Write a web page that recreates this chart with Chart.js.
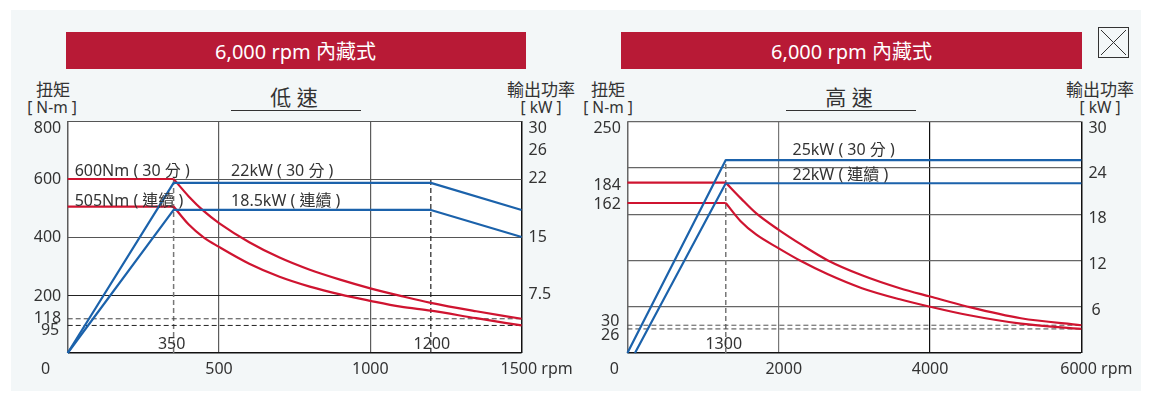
<!DOCTYPE html>
<html>
<head>
<meta charset="utf-8">
<script src="https://cdn.jsdelivr.net/npm/chart.js@4/dist/chart.umd.min.js"></script>
<style>
  html, body { margin: 0; padding: 0; background: #fff; }
  body { width: 1150px; height: 400px; position: relative; overflow: hidden; font-family: "Noto Sans", "Noto Sans CJK TC", sans-serif; color: #333; }
  #panel { position: absolute; left: 11px; top: 10px; width: 1130px; height: 381px; background: #f3f7f8; }
  canvas { position: absolute; top: 0; }
  .banner { position: absolute; top: 32px; height: 37px; line-height: 39px; background: #b81a36; color: #fff; text-align: center; font-size: 20px; }
  .txt { position: absolute; transform: translate(-50%, -50%); white-space: nowrap; }
  .unit { font-size: 17px; }
  .bracket { font-size: 15.5px; }
  .speed { font-size: 21px; color: #333; }
  .rule { position: absolute; top: 110px; height: 1px; background: #333; }
  #cross { position: absolute; left: 1098px; top: 27px; }
</style>
</head>
<body>
<div id="panel"></div>
<div class="banner" style="left:65.5px;width:460px">6,000 rpm 內藏式</div>
<div class="banner" style="left:621px;width:461px">6,000 rpm 內藏式</div>
<svg id="cross" width="31" height="31"><rect x="0.5" y="0.5" width="30" height="30" fill="none" stroke="#333"/><path d="M3 3L28 28M28 3L3 28" stroke="#333" fill="none"/></svg>

<div class="txt unit" style="left:53px;top:88px">扭矩</div>
<div class="txt bracket" style="left:52px;top:107px">[ N-m ]</div>
<div class="txt unit" style="left:541px;top:88px">輸出功率</div>
<div class="txt bracket" style="left:541px;top:107px">[ kW ]</div>
<div class="txt speed" style="left:294px;top:96px">低 速</div>
<div class="rule" style="left:231px;width:130px"></div>

<div class="txt unit" style="left:608px;top:88px">扭矩</div>
<div class="txt bracket" style="left:608px;top:107px">[ N-m ]</div>
<div class="txt unit" style="left:1100px;top:88px">輸出功率</div>
<div class="txt bracket" style="left:1100px;top:107px">[ kW ]</div>
<div class="txt speed" style="left:849px;top:96px">高 速</div>
<div class="rule" style="left:786px;width:130px"></div>

<canvas id="lowChart" width="575" height="400" style="left:0"></canvas>
<canvas id="highChart" width="575" height="400" style="left:575px"></canvas>

<script>
// low speed values
const lowRpmTicks = [0, 500, 1000, 1500];
const lowRpmLabels = ["0", "500", "1000", "1500 rpm"];
const lowTorqueGrid = [0, 200, 400, 600, 800];
const lowTorqueTicks = [800, 600, 400, 200, 118, 95];
const lowPowerTicks = [30, 26, 22, 15, 7.5];

const lowFlatRpm = [0, 350];
const lowFlat30 = [600, 600];
const lowFlatCont = [505, 505];
const lowCurveRpm = [350, 400, 450, 500, 600, 700, 800, 900, 1000, 1100, 1200, 1350, 1500];
const lowTorque30 = [600, 540, 489, 448, 382, 329, 287, 253, 223, 197, 173, 144, 118];
const lowTorqueCont = [505, 443, 398, 366, 308, 263, 229, 202, 180, 160, 146, 120, 95];
const lowPowerRpm = [0, 350, 1200, 1500];
const lowPower30 = [0, 22, 22, 18.5];
const lowPowerCont = [0, 18.5, 18.5, 15];

// high speed values
const highRpmTicks = [0, 2000, 4000, 6000];
const highRpmLabels = ["0", "2000", "4000", "6000 rpm"];
const highPowerGrid = [0, 6, 12, 18, 24, 30];
const highTorqueTicks = [250, 184, 162, 30, 26];
const highPowerTicks = [30, 24, 18, 12, 6];

const highFlatRpm = [0, 1300];
const highFlat30 = [184, 184];
const highFlatCont = [162, 162];
const highCurveRpm = [1300, 1500, 1700, 2000, 2300, 2650, 3100, 3600, 4000, 4500, 5200, 6000];
const highTorque30 = [184, 167, 151, 133, 117, 100, 84, 70, 61, 50, 37.5, 30];
const highTorqueCont = [162, 142, 128, 113, 99, 85, 70, 58, 50, 41, 31.7, 26];
const highPower30Rpm = [0, 1300, 6000];
const highPower30 = [0, 25, 25];
const highPowerContRpm = [100, 1300, 6000];
const highPowerCont = [0, 22, 22];

const RED = "#cf1430";
const BLUE = "#1b62ab";
const TEXT = "#333";
const FONT = '"Noto Sans", "Noto Sans CJK TC", sans-serif';

function pts(xs, ys) {
  return xs.map((x, i) => ({ x: x, y: ys[i] }));
}

function line(xs, ys, color, axis) {
  return { data: pts(xs, ys), borderColor: color, borderWidth: 2.2, pointRadius: 0, tension: 0, yAxisID: axis, clip: false, borderJoinStyle: "round" };
}

function curve(xs, ys) {
  return Object.assign(line(xs, ys, RED, "torque"), { cubicInterpolationMode: "monotone" });
}

function dash(xs, ys, color, axis, width) {
  return { data: pts(xs, ys), borderColor: color, borderWidth: width || 1, borderDash: [5, 3], pointRadius: 0, yAxisID: axis, clip: false };
}

// white plot background, tick labels and notes. Labels sit a few px off their
// grid lines in the original, so they are drawn here and not by the axis
const labelsPlugin = {
  id: "labels",
  beforeDraw(chart) {
    const a = chart.chartArea;
    chart.ctx.fillStyle = "#fff";
    chart.ctx.fillRect(a.left, a.top, a.width, a.height);
  },
  afterDraw(chart) {
    const o = chart.options.plugins.labels;
    const c = chart.ctx;
    const sx = chart.scales.x, st = chart.scales.torque, sp = chart.scales.power;
    c.save();
    c.font = "16px " + FONT;
    c.fillStyle = TEXT;
    c.textBaseline = "middle";
    c.textAlign = "right";
    o.torque.forEach(t => c.fillText(String(t[0]), sx.left - 6.5 + (t[2] || 0), st.getPixelForValue(t[0]) + t[1] + 1.5));
    c.textAlign = "left";
    o.power.forEach(t => c.fillText(String(t[0]), sx.right + 7 + (t[2] || 0), sp.getPixelForValue(t[0]) + t[1] + 1.5));
    c.textAlign = "center";
    o.rpm.forEach(t => c.fillText(t[0], sx.getPixelForValue(t[1]) + t[2], st.bottom + 16));
    o.marks.forEach(t => c.fillText(String(t[0]), sx.getPixelForValue(t[0]) + t[1], st.bottom - 9));
    c.textAlign = "left";
    o.notes.forEach(t => c.fillText(t[0], sx.getPixelForValue(t[1]), st.getPixelForValue(t[2]) + 1.5));
    c.restore();
  }
};

function makeChart(id, cfg) {
  new Chart(document.getElementById(id), {
    type: "line",
    data: { datasets: cfg.datasets },
    plugins: [labelsPlugin],
    options: {
      responsive: false,
      animation: false,
      parsing: false,
      layout: { padding: cfg.padding },
      plugins: {
        legend: { display: false },
        tooltip: { enabled: false },
        labels: cfg.labels,
      },
      scales: {
        x: {
          type: "linear",
          min: 0,
          max: cfg.xMax,
          afterBuildTicks: s => { s.ticks = cfg.xTicks.map(v => ({ value: v })); },
          ticks: { display: false },
          border: { display: false },
          grid: { drawTicks: false, color: cfg.xGridColor, lineWidth: c => (c.tick.value === 0 || c.tick.value === cfg.xMax ? 1.5 : 1.2) },
        },
        torque: {
          type: "linear",
          position: "left",
          min: 0,
          max: cfg.torqueMax,
          afterBuildTicks: s => { s.ticks = (cfg.torqueGrid || []).map(v => ({ value: v })); },
          ticks: { display: false },
          border: { display: false },
          grid: { display: !!cfg.torqueGrid, drawTicks: false, color: cfg.yGridColor, lineWidth: c => (c.tick.value === 0 ? 1.5 : 1) },
        },
        power: {
          type: "linear",
          position: "right",
          min: 0,
          max: 30,
          afterBuildTicks: s => { s.ticks = (cfg.powerGrid || []).map(v => ({ value: v })); },
          ticks: { display: false },
          border: { display: false },
          grid: { display: !!cfg.powerGrid, drawTicks: false, color: cfg.yGridColor, lineWidth: c => (c.tick.value === 0 ? 1.5 : 1.2) },
        },
      },
    },
  });
}

makeChart("lowChart", {
  padding: { left: 67.7, right: 53.4, top: 121, bottom: 47 },
  xMax: 1500,
  xTicks: lowRpmTicks,
  torqueMax: 800,
  torqueGrid: lowTorqueGrid,
  xGridColor: c => (c.tick.value === 1500 ? "#111" : "#5c5c5c"),
  yGridColor: c => (c.tick.value === 0 ? "#111" : c.tick.value === 200 ? "#222" : "#555"),
  datasets: [
    line(lowPowerRpm, lowPower30, BLUE, "power"),
    line(lowPowerRpm, lowPowerCont, BLUE, "power"),
    line(lowFlatRpm, lowFlat30, RED, "torque"),
    line(lowFlatRpm, lowFlatCont, RED, "torque"),
    curve(lowCurveRpm, lowTorque30),
    curve(lowCurveRpm, lowTorqueCont),
    dash([0, 1500], [118, 118], "#444", "torque"),
    dash([0, 1500], [95, 95], "#222", "torque"),
    dash([350, 350], [0, 600], "#777", "torque", 1.5),
    dash([1200, 1200], [0, 600], "#222", "torque", 1.2),
  ],
  labels: {
    torque: lowTorqueTicks.map((v, i) => [v, [5.7, -1.3, -1, 0, -2, 3.8][i], i === 5 ? -2 : 0]),
    power: lowPowerTicks.map((v, i) => [v, [6, -3, -6, -1, -2][i]]),
    rpm: lowRpmLabels.map((v, i) => [v, lowRpmTicks[i], [-22, 0, 0, 15][i]]),
    marks: [[350, -2], [1200, 1]],
    notes: [
      ["600Nm ( 30 分 )", 23, 631],
      ["505Nm ( 連續 )", 23, 528],
      ["22kW ( 30 分 )", 540, 631],
      ["18.5kW ( 連續 )", 540, 528],
    ],
  },
});

makeChart("highChart", {
  padding: { left: 52.4, right: 68.6, top: 121.5, bottom: 47 },
  xMax: 6000,
  xTicks: highRpmTicks,
  torqueMax: 250,
  powerGrid: highPowerGrid,
  xGridColor: c => (c.tick.value === 2000 ? "#777" : c.tick.value === 0 ? "#666" : "#111"),
  yGridColor: c => (c.tick.value === 0 ? "#111" : "#666"),
  datasets: [
    line(highPower30Rpm, highPower30, BLUE, "power"),
    line(highPowerContRpm, highPowerCont, BLUE, "power"),
    line(highFlatRpm, highFlat30, RED, "torque"),
    line(highFlatRpm, highFlatCont, RED, "torque"),
    curve(highCurveRpm, highTorque30),
    curve(highCurveRpm, highTorqueCont),
    dash([0, 6000], [30, 30], "#555", "torque"),
    dash([0, 6000], [26, 26], "#444", "torque"),
    dash([1300, 1300], [0, 208], "#777", "torque", 1.5),
  ],
  labels: {
    torque: highTorqueTicks.map((v, i) => [v, [5, 1, 0, -5, 5][i], i > 2 ? -1.5 : 0]),
    power: highPowerTicks.map((v, i) => [v, [5.5, 4, 3, 2.4, 2.3][i], i === 4 ? 3 : 0]),
    rpm: highRpmLabels.map((v, i) => [v, highRpmTicks[i], [-13, 5, 0, 15][i]]),
    marks: [[1300, -2]],
    notes: [
      ["25kW ( 30 分 )", 2182, 220],
      ["22kW ( 連續 )", 2182, 193],
    ],
  },
});
</script>
</body>
</html>
